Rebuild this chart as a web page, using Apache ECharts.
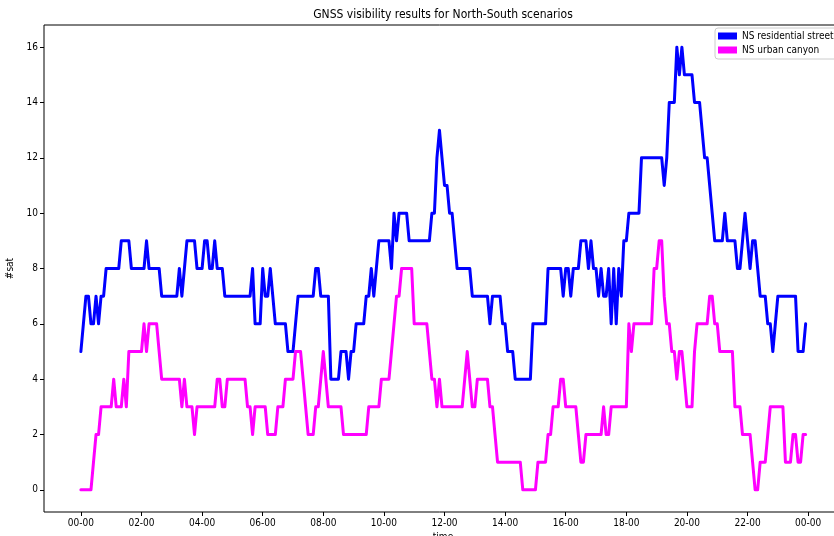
<!DOCTYPE html>
<html>
<head>
<meta charset="utf-8">
<script src="https://cdn.jsdelivr.net/npm/echarts@6/dist/echarts.min.js"></script>
<style>
  html, body { margin: 0; padding: 0; background: #fff; }
  #chart { width: 834px; height: 536px; }
</style>
</head>
<body>
<div id="chart"></div>
<script>
// Visible satellite counts over one day, one sample every 5 minutes (00:00 .. 23:55).
const SAMPLE_STEP_MIN = 5;

const residentialStreet = [
  5,6,7,7,6,6,7,6,7,7,
  8,8,8,8,8,8,9,9,9,9,
  8,8,8,8,8,8,9,8,8,8,
  8,8,7,7,7,7,7,7,7,8,
  7,8,9,9,9,9,8,8,8,9,
  9,8,8,9,8,8,8,7,7,7,
  7,7,7,7,7,7,7,7,8,6,
  6,6,8,7,7,8,7,6,6,6,
  6,6,5,5,5,6,7,7,7,7,
  7,7,7,8,8,7,7,7,7,4,
  4,4,4,5,5,5,4,5,5,6,
  6,6,6,7,7,8,7,8,9,9,
  9,9,9,8,10,9,10,10,10,10,
  9,9,9,9,9,9,9,9,9,10,
  10,12,13,12,11,11,10,10,9,8,
  8,8,8,8,8,7,7,7,7,7,
  7,7,6,7,7,7,7,6,6,5,
  5,5,4,4,4,4,4,4,4,6,
  6,6,6,6,6,8,8,8,8,8,
  8,7,8,8,7,8,8,8,9,9,
  9,8,9,8,8,7,8,7,7,8,
  6,8,6,8,7,9,9,10,10,10,
  10,10,12,12,12,12,12,12,12,12,
  12,11,12,14,14,14,16,15,16,15,
  15,15,15,14,14,14,13,12,12,11,
  10,9,9,9,9,10,9,9,9,9,
  8,8,9,10,9,8,9,9,8,7,
  7,7,6,6,5,6,7,7,7,7,
  7,7,7,7,5,5,5,6
];

const urbanCanyon = [
  0,0,0,0,0,1,2,2,3,3,
  3,3,3,4,3,3,3,4,3,5,
  5,5,5,5,5,6,5,6,6,6,
  6,5,4,4,4,4,4,4,4,4,
  3,4,3,3,3,2,3,3,3,3,
  3,3,3,3,4,4,3,3,4,4,
  4,4,4,4,4,4,3,3,2,3,
  3,3,3,3,2,2,2,2,3,3,
  3,4,4,4,4,5,5,5,4,3,
  2,2,2,3,3,4,5,4,3,3,
  3,3,3,3,2,2,2,2,2,2,
  2,2,2,2,3,3,3,3,3,4,
  4,4,4,5,6,7,7,8,8,8,
  8,8,6,6,6,6,6,6,5,4,
  4,3,4,3,3,3,3,3,3,3,
  3,3,4,5,4,3,3,4,4,4,
  4,4,3,3,2,1,1,1,1,1,
  1,1,1,1,1,0,0,0,0,0,
  0,1,1,1,1,2,2,3,3,3,
  4,4,3,3,3,3,3,2,1,1,
  2,2,2,2,2,2,2,3,2,2,
  3,3,3,3,3,3,3,6,5,6,
  6,6,6,6,6,6,6,8,8,9,
  9,7,6,6,5,5,4,5,5,4,
  3,3,3,5,6,6,6,6,6,7,
  7,6,6,5,5,5,5,5,5,3,
  3,3,2,2,2,2,1,0,0,1,
  1,1,2,3,3,3,3,3,3,1,
  1,1,2,2,1,1,2,2
];

const seriesNames = ['NS residential street', 'NS urban canyon'];
const seriesColors = ['#0000ff', '#ff00ff'];

// Axis ticks: every two hours on x (in minutes), every 2 satellites on y.
const xTickMinutes = [0, 120, 240, 360, 480, 600, 720, 840, 960, 1080, 1200, 1320, 1440];
const xTickLabels = ['00-00', '02-00', '04-00', '06-00', '08-00', '10-00', '12-00',
                     '14-00', '16-00', '18-00', '20-00', '22-00', '00-00'];
const yTicks = [0, 2, 4, 6, 8, 10, 12, 14, 16];

const FONT = "'DejaVu Sans Condensed', 'DejaVu Sans', sans-serif";
const toPoints = vals => vals.map((v, i) => [i * SAMPLE_STEP_MIN, v]);

const chart = echarts.init(document.getElementById('chart'), null, { renderer: 'canvas' });

const lineSeries = (name, color, values) => ({
  name: name,
  type: 'line',
  data: toPoints(values),
  showSymbol: false,
  symbol: 'none',
  smooth: false,
  color: color,
  lineStyle: { color: color, width: 3, join: 'round', cap: 'round' },
  emphasis: { disabled: true },
  clip: true
});

chart.setOption({
  animation: false,
  backgroundColor: '#ffffff',
  textStyle: { fontFamily: FONT },
  title: {
    text: 'GNSS visibility results for North-South scenarios',
    left: 443,
    top: 9,
    textAlign: 'center',
    padding: 0,
    textStyle: { fontFamily: FONT, fontSize: 12, fontWeight: 'normal', color: '#000' }
  },
  legend: {
    orient: 'vertical',
    left: 715,
    top: 28,
    padding: [2, 4, 3, 3],
    itemGap: 2,
    itemWidth: 19,
    itemHeight: 7,
    icon: 'rect',
    backgroundColor: 'rgba(255,255,255,0.85)',
    borderColor: '#cccccc',
    borderWidth: 1,
    borderRadius: 3,
    selectedMode: false,
    data: seriesNames,
    textStyle: { fontFamily: FONT, fontSize: 10, color: '#000', lineHeight: 12 }
  },
  grid: {
    left: 44,
    top: 25,
    right: -8,
    bottom: 24,
    outerBoundsMode: 'none',
    containLabel: false,
    show: true,
    borderColor: '#000',
    borderWidth: 1,
    backgroundColor: 'transparent'
  },
  xAxis: {
    type: 'value',
    min: -73,
    max: 1507,
    name: 'time',
    nameLocation: 'middle',
    nameGap: 18,
    nameTextStyle: { fontFamily: FONT, fontSize: 10, color: '#000' },
    axisLine: { show: false, onZero: false },
    splitLine: { show: false },
    axisTick: { show: true, inside: false, customValues: xTickMinutes, length: 4, lineStyle: { color: '#000', width: 1 } },
    axisLabel: {
      customValues: xTickMinutes,
      margin: 6,
      fontFamily: FONT,
      fontSize: 10,
      color: '#000',
      formatter: v => xTickLabels[xTickMinutes.indexOf(v)] || ''
    }
  },
  yAxis: {
    type: 'value',
    min: -0.8,
    max: 16.8,
    name: '#sat',
    nameLocation: 'middle',
    nameGap: 26,
    nameTextStyle: { fontFamily: FONT, fontSize: 10, color: '#000' },
    axisLine: { show: false, onZero: false },
    splitLine: { show: false },
    axisTick: { show: true, inside: false, customValues: yTicks, length: 4, lineStyle: { color: '#000', width: 1 } },
    axisLabel: {
      customValues: yTicks,
      margin: 6,
      fontFamily: FONT,
      fontSize: 10,
      color: '#000'
    }
  },
  series: [
    lineSeries(seriesNames[0], seriesColors[0], residentialStreet),
    lineSeries(seriesNames[1], seriesColors[1], urbanCanyon)
  ]
});
</script>
</body>
</html>
